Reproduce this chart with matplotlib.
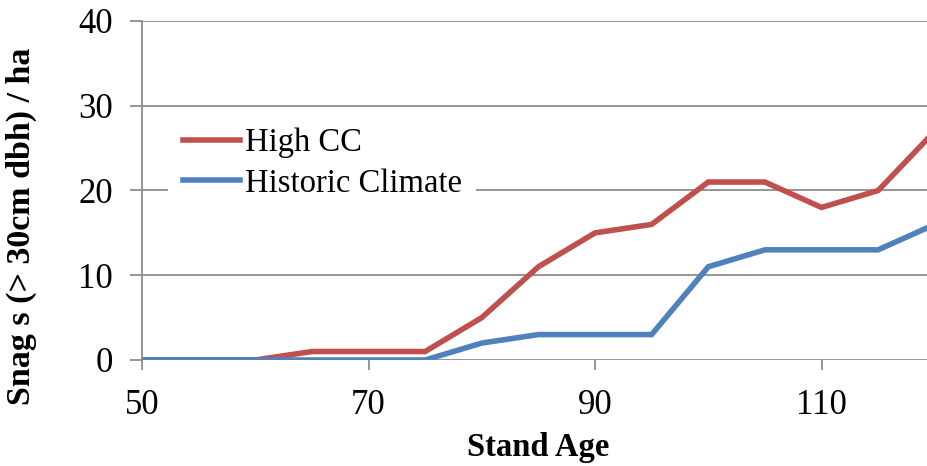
import matplotlib

matplotlib.use('Agg')
import matplotlib.pyplot as plt

# --- data ---
stand_age = [50, 55, 60, 65, 70, 75, 80, 85, 90, 95, 100, 105, 110, 115, 120]
high_cc = [0, 0, 0, 1, 1, 1, 5, 11, 15, 16, 21, 21, 18, 20, 27]
historic = [0, 0, 0, 0, 0, 0, 2, 3, 3, 3, 11, 13, 13, 13, 16]
x_ticks = [50, 70, 90, 110]
y_ticks = [0, 10, 20, 30, 40]

RED = '#C0504D'
BLUE = '#4F81BD'
GRID = '#8C8C8C'

plt.rcParams['font.family'] = ['Liberation Serif', 'DejaVu Serif']

fig = plt.figure(figsize=[9.28, 4.66], dpi=100)
ax = fig.add_axes([142 / 928, 1 - 360 / 466, 1 - 142 / 928, (360 - 21) / 466])

ax.plot(stand_age, high_cc, color=RED, lw=4, label='High CC', solid_joinstyle='miter')
ax.plot(stand_age, historic, color=BLUE, lw=4, label='Historic Climate', solid_joinstyle='miter')

ax.set_xlim(50, 119.4)
ax.set_ylim(0, 40)
ax.set_xticks(x_ticks)
ax.set_yticks(y_ticks)
ax.yaxis.grid(True, color=GRID, lw=1.3)
ax.set_axisbelow(True)
for side in ['top', 'right', 'bottom']:
    ax.spines[side].set_visible(False)
ax.spines['left'].set_color(GRID)
ax.spines['left'].set_linewidth(1.3)
ax.tick_params(axis='y', length=9, width=1.3, color=GRID, labelsize=25, pad=12)
ax.tick_params(axis='x', length=7, width=1.3, color=GRID, labelsize=25, pad=14)

ax.set_xlabel('Stand Age', fontsize=23.5, fontweight='bold', va='center')
ax.xaxis.set_label_coords(0.504, -0.257)
ax.set_ylabel('Snag s (> 30cm dbh) / ha', fontsize=24.5, fontweight='bold', va='center')
ax.yaxis.set_label_coords(-0.153, 0.395)

# white legend box that hides the 20 gridline behind it
leg = ax.legend(loc='upper left', bbox_to_anchor=(0.033, 0.728), borderaxespad=0,
                fontsize=23.5, frameon=True, facecolor='white', edgecolor='none',
                framealpha=1, fancybox=False, handlelength=1.75, handletextpad=0.15,
                labelspacing=0.3, borderpad=0.45)

plt.savefig('out.png', dpi=100)
